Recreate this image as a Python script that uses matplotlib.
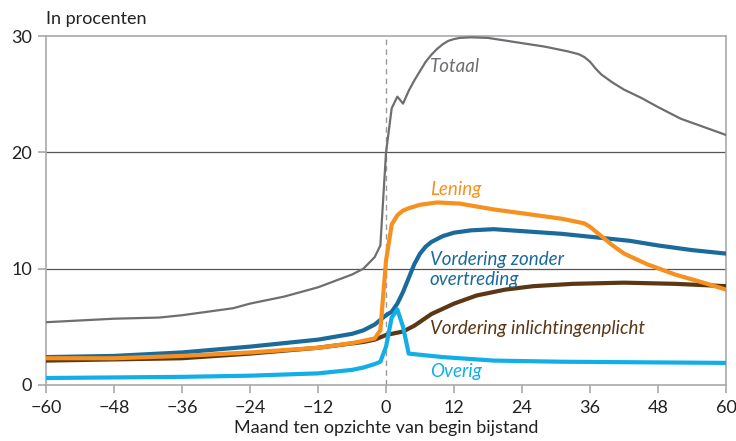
import matplotlib.pyplot as plt

plt.rcParams['font.family'] = ['Lato', 'DejaVu Sans']

# Totaal
m_tot = [-60, -48, -40, -36, -30, -27, -24, -18, -12, -6, -4, -2, -1, 0, 1, 2, 3, 4, 5, 6, 7, 8, 9, 10, 11, 12, 13, 15, 18, 24, 28, 32, 34, 35, 36, 37, 38, 40, 42, 45, 48, 52, 56, 60]
v_tot = [5.4, 5.7, 5.8, 6.0, 6.4, 6.6, 7.0, 7.6, 8.4, 9.5, 10.0, 11.0, 12.0, 20.0, 23.8, 24.8, 24.2, 25.3, 26.2, 27.0, 27.8, 28.4, 28.9, 29.3, 29.6, 29.75, 29.85, 29.9, 29.85, 29.4, 29.1, 28.7, 28.45, 28.2, 27.8, 27.2, 26.7, 26.0, 25.4, 24.7, 23.9, 22.9, 22.2, 21.5]
# Lening
m_len = [-60, -48, -36, -24, -12, -6, -2, -1, 0, 1, 2, 3, 4, 6, 9, 13, 19, 25, 31, 34, 35, 36, 37, 38, 40, 42, 46, 51, 56, 60]
v_len = [2.3, 2.3, 2.5, 2.8, 3.2, 3.6, 4.0, 4.7, 10.7, 13.8, 14.6, 15.0, 15.2, 15.5, 15.7, 15.6, 15.1, 14.7, 14.3, 14.0, 13.9, 13.6, 13.2, 12.8, 12.0, 11.3, 10.4, 9.5, 8.8, 8.2]
# Vordering zonder overtreding
m_vzo = [-60, -48, -36, -24, -12, -6, -4, -2, 0, 1, 2, 3, 4, 5, 6, 7, 8, 10, 12, 15, 19, 25, 31, 37, 43, 48, 54, 60]
v_vzo = [2.4, 2.5, 2.8, 3.3, 3.9, 4.4, 4.7, 5.2, 6.0, 6.3, 7.0, 8.0, 9.2, 10.4, 11.3, 11.9, 12.3, 12.8, 13.1, 13.3, 13.4, 13.2, 13.0, 12.7, 12.4, 12.0, 11.6, 11.3]
# Vordering inlichtingenplicht
m_vin = [-60, -36, -24, -12, -4, -2, 0, 1, 3, 5, 8, 12, 16, 21, 26, 33, 42, 51, 60]
v_vin = [2.1, 2.3, 2.7, 3.2, 3.7, 3.9, 4.3, 4.4, 4.6, 5.1, 6.1, 7.0, 7.7, 8.2, 8.5, 8.7, 8.8, 8.7, 8.5]
# Overig
m_ov = [-60, -36, -24, -12, -6, -4, -2, -1, 0, 1, 2, 3, 4, 10, 19, 31, 60]
v_ov = [0.6, 0.7, 0.8, 1.0, 1.3, 1.5, 1.8, 2.0, 3.3, 5.8, 6.5, 5.0, 2.7, 2.4, 2.1, 2.0, 1.9]

c_tot = '#6d6e71'
c_len = '#f7901e'
c_vzo = '#1b6a9c'
c_vin = '#5b3714'
c_ov = '#12aee8'

fig = plt.figure(figsize=(7.36, 4.41), dpi=100)
ax = fig.add_axes([0.0625, 0.127, 0.924, 0.791])

# rasterlijnen
for y in [10, 20]:
    ax.axhline(y, color='#555555', lw=0.9, zorder=1)
ax.axvline(0, color='#9a9a9a', lw=1, ls=(0, (4, 3)), zorder=1)

ax.plot(m_tot, v_tot, color=c_tot, lw=1.6, zorder=3)
ax.plot(m_vin, v_vin, color=c_vin, lw=3, zorder=3)
ax.plot(m_vzo, v_vzo, color=c_vzo, lw=3, zorder=3)
ax.plot(m_len, v_len, color=c_len, lw=3, zorder=4)
ax.plot(m_ov, v_ov, color=c_ov, lw=3, zorder=5)

ax.set_xlim(-60, 60)
ax.set_ylim(0, 30)
ax.set_xticks(range(-60, 61, 12))
ax.set_xticklabels([str(t).replace('-', '\u2212') for t in range(-60, 61, 12)])
ax.set_yticks([0, 10, 20, 30])
for s in ['top', 'right', 'left', 'bottom']:
    ax.spines[s].set_color('#a7a9ac')
    ax.spines[s].set_linewidth(1.2)
ax.tick_params(axis='both', colors='#a7a9ac', labelcolor='#222222', labelsize=13, length=6, width=1.2)
ax.tick_params(axis='x', pad=5)
ax.tick_params(axis='y', pad=4)

ax.set_xlabel('Maand ten opzichte van begin bijstand', fontsize=13, color='#222222', labelpad=3)
fig.text(0.0625, 0.958, 'In procenten', fontsize=13, color='#222222', ha='left', va='center')

lab = dict(fontsize=13.5, style='italic', ha='left', va='center', zorder=6)
ax.text(7.7, 27.4, 'Totaal', color=c_tot, **lab)
ax.text(7.7, 16.8, 'Lening', color=c_len, **lab)
ax.text(7.7, 10.8, 'Vordering zonder', color=c_vzo, **lab)
ax.text(7.7, 9.1, 'overtreding', color=c_vzo, **lab)
ax.text(7.7, 4.9, 'Vordering inlichtingenplicht', color=c_vin, **lab)
ax.text(7.7, 1.2, 'Overig', color=c_ov, **lab)

fig.savefig('out.png', dpi=100)
